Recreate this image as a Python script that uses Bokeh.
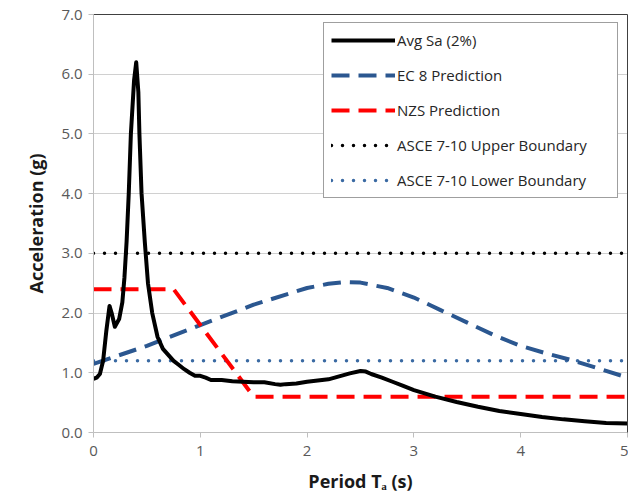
from bokeh.plotting import figure
from bokeh.models import LinearAxis, Legend, LegendItem, FixedTicker, NumeralTickFormatter, Range1d
from bokeh.embed import file_html
from bokeh.resources import INLINE

# Avg Sa (2%)
avg_t = [0, 0.03, 0.06, 0.09, 0.12, 0.15, 0.17, 0.20, 0.24, 0.27, 0.29, 0.31, 0.33, 0.35, 0.38, 0.40,
         0.42, 0.43, 0.45, 0.48, 0.51, 0.55, 0.60, 0.65, 0.70, 0.75, 0.80, 0.85, 0.90, 0.95, 1.0, 1.05,
         1.1, 1.2, 1.3, 1.4, 1.5, 1.6, 1.7, 1.75, 1.8, 1.9, 2.0, 2.1, 2.2, 2.3, 2.4, 2.5, 2.55, 2.6,
         2.7, 2.8, 2.9, 3.0, 3.2, 3.4, 3.6, 3.8, 4.0, 4.2, 4.4, 4.6, 4.8, 5.0]
avg_sa = [0.90, 0.92, 0.98, 1.20, 1.70, 2.12, 2.00, 1.77, 1.90, 2.18, 2.60, 3.20, 4.00, 5.00, 5.90, 6.20,
          5.70, 5.00, 4.00, 3.20, 2.50, 2.00, 1.60, 1.40, 1.30, 1.20, 1.13, 1.06, 1.00, 0.95, 0.95, 0.92,
          0.88, 0.88, 0.86, 0.85, 0.84, 0.84, 0.81, 0.80, 0.81, 0.82, 0.85, 0.87, 0.89, 0.94, 0.99, 1.03, 1.02, 0.98,
          0.92, 0.85, 0.78, 0.71, 0.60, 0.51, 0.43, 0.36, 0.31, 0.26, 0.22, 0.19, 0.16, 0.15]

# EC 8 Prediction
ec8_t = [0, 0.5, 1.0, 1.5, 2.0, 2.2, 2.35, 2.5, 2.75, 3.0, 3.25, 3.5, 3.75, 4.0, 4.25, 4.5, 4.75, 5.0]
ec8_sa = [1.15, 1.45, 1.80, 2.14, 2.42, 2.49, 2.52, 2.51, 2.42, 2.26, 2.05, 1.84, 1.63, 1.45, 1.32, 1.20, 1.06, 0.92]

# NZS Prediction
nzs_t = [0, 0.75, 1.5, 5.0]
nzs_sa = [2.4, 2.4, 0.6, 0.6]

# ASCE 7-10 boundaries
asce_t = [0, 5.0]
asce_upper = [3.0, 3.0]
asce_lower = [1.2, 1.2]

x_ticks = [0, 1, 2, 3, 4, 5]
y_ticks = [0, 1, 2, 3, 4, 5, 6, 7]

FONT = "Open Sans"

p = figure(width=628, height=495, output_backend="svg", toolbar_location=None,
           x_range=Range1d(0, 5), y_range=Range1d(0, 7),
           min_border_left=93, min_border_right=1, min_border_top=14, min_border_bottom=63,
           frame_width=534, frame_height=418)
p.background_fill_color = "white"
p.outline_line_color = None

r_asce_u = p.line(asce_t, asce_upper, line_color="black", line_width=3.5, line_dash="0 11", line_cap="round")
r_asce_l = p.line(asce_t, asce_lower, line_color="#3a6aa3", line_width=3.5, line_dash="0 11", line_cap="round")
r_ec8 = p.line(ec8_t, ec8_sa, line_color="#2b5790", line_width=4, line_dash="18 9")
r_nzs = p.line(nzs_t, nzs_sa, line_color="#ff0000", line_width=4, line_dash="18 9")
r_avg = p.line(avg_t, avg_sa, line_color="black", line_width=4, line_join="round")

# axes styling
for ax in (p.xaxis[0], p.yaxis[0]):
    ax.axis_line_color = "#bfbfbf"
    ax.major_tick_line_color = "#bfbfbf"
    ax.major_tick_out = 5
    ax.major_tick_in = 0
    ax.minor_tick_line_color = None
    ax.major_label_text_font = FONT
    ax.major_label_text_font_size = "15px"
    ax.major_label_text_color = "#595959"
    ax.axis_label_text_font = FONT
    ax.axis_label_text_font_size = "18px"
    ax.axis_label_text_font_style = "bold"
    ax.axis_label_text_color = "#1a1a1a"

p.xaxis.ticker = FixedTicker(ticks=x_ticks)
p.yaxis.ticker = FixedTicker(ticks=y_ticks)
p.yaxis.formatter = NumeralTickFormatter(format="0.0")
p.xaxis.axis_label = "Period T\u2090 (s)"
p.yaxis.axis_label = "Acceleration (g)"
p.xaxis.major_label_standoff = 8
p.yaxis.major_label_standoff = 6
p.xaxis.axis_label_standoff = 10
p.yaxis.axis_label_standoff = 10

p.xgrid.grid_line_color = None
p.ygrid.grid_line_color = "#d0d0d0"
p.ygrid.ticker = FixedTicker(ticks=y_ticks)

# top and right border
top_ax = LinearAxis(ticker=FixedTicker(ticks=[]), axis_line_color="#404040", major_label_text_font_size="0px",
                    minor_tick_line_color=None, major_tick_line_color=None)
right_ax = LinearAxis(ticker=FixedTicker(ticks=[]), axis_line_color="#404040", major_label_text_font_size="0px",
                      minor_tick_line_color=None, major_tick_line_color=None)
p.add_layout(top_ax, "above")
p.add_layout(right_ax, "right")

legend = Legend(items=[
    LegendItem(label="Avg Sa (2%)", renderers=[r_avg]),
    LegendItem(label="EC 8 Prediction", renderers=[r_ec8]),
    LegendItem(label="NZS Prediction", renderers=[r_nzs]),
    LegendItem(label="ASCE 7-10 Upper Boundary", renderers=[r_asce_u]),
    LegendItem(label="ASCE 7-10 Lower Boundary", renderers=[r_asce_l]),
], location=(230, 234))
legend.border_line_color = "#404040"
legend.border_line_width = 1
legend.background_fill_alpha = 1
legend.padding = 7
legend.margin = 0
legend.spacing = 15
legend.glyph_width = 64
legend.glyph_height = 20
legend.label_height = 20
legend.label_standoff = 2
legend.label_width = 213
legend.label_text_font = FONT
legend.label_text_font_size = "15px"
legend.label_text_color = "#262626"
p.add_layout(legend, "center")

open("out.html", "w").write(file_html(p, INLINE))
